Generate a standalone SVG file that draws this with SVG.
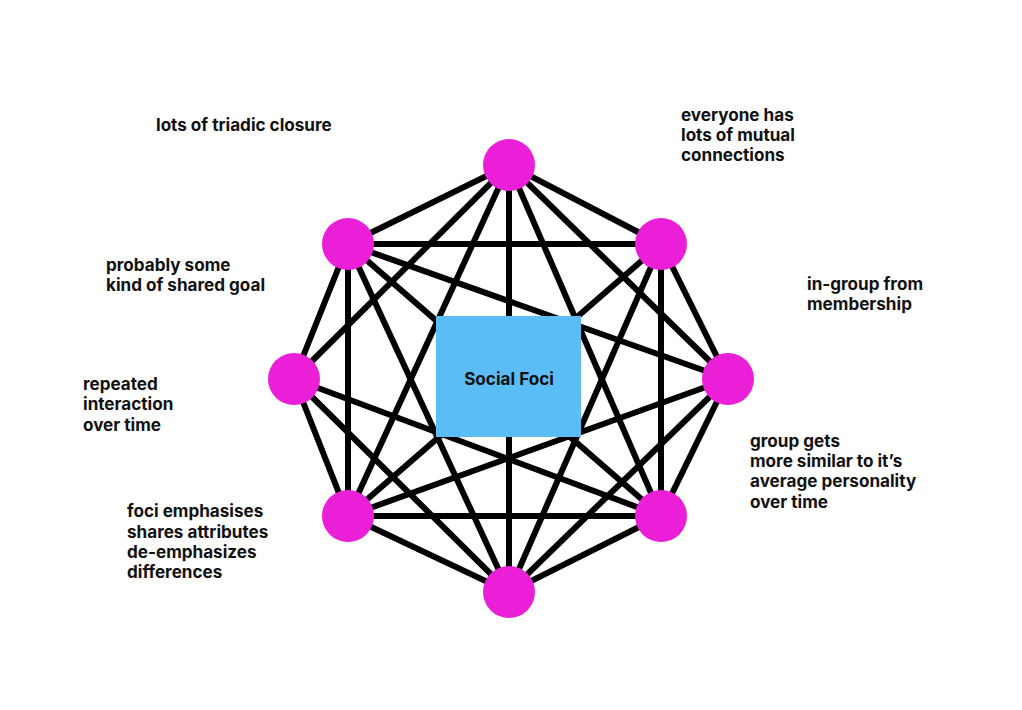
<svg xmlns="http://www.w3.org/2000/svg" width="1022" height="710" viewBox="0 0 1022 710">
<style>
.e{stroke:#000;stroke-width:6;fill:none}
.n{fill:#EA1FD7}
.t{font-family:Inter,"Liberation Sans",sans-serif;font-weight:700;font-size:17.1px;fill:#111}
</style>
<rect width="1022" height="710" fill="#fff"/>
<g id="connectors" class="e">
<line x1="509" y1="165" x2="661" y2="244"/>
<line x1="509" y1="165" x2="348" y2="244"/>
<line x1="509" y1="165" x2="294" y2="379"/>
<line x1="509" y1="165" x2="728" y2="379"/>
<line x1="509" y1="165" x2="509" y2="592"/>
<line x1="509" y1="165" x2="348" y2="516"/>
<line x1="509" y1="165" x2="661" y2="516"/>
<line x1="348" y1="244" x2="661" y2="244"/>
<line x1="348" y1="244" x2="294" y2="379"/>
<line x1="348" y1="244" x2="348" y2="516"/>
<line x1="348" y1="244" x2="728" y2="379"/>
<line x1="348" y1="244" x2="661" y2="516"/>
<line x1="348" y1="244" x2="509" y2="592"/>
<line x1="661" y1="244" x2="728" y2="379"/>
<line x1="661" y1="244" x2="661" y2="516"/>
<line x1="661" y1="244" x2="348" y2="516"/>
<line x1="661" y1="244" x2="509" y2="592"/>
<line x1="294" y1="379" x2="348" y2="516"/>
<line x1="294" y1="379" x2="661" y2="516"/>
<line x1="294" y1="379" x2="509" y2="592"/>
<line x1="728" y1="379" x2="661" y2="516"/>
<line x1="728" y1="379" x2="348" y2="516"/>
<line x1="728" y1="379" x2="509" y2="592"/>
<line x1="348" y1="516" x2="661" y2="516"/>
<line x1="348" y1="516" x2="509" y2="592"/>
<line x1="661" y1="516" x2="509" y2="592"/>
</g>
<g id="social-foci">
<rect x="436" y="316" width="145" height="121" fill="#5BBDF5"/>
<text class="t" x="509" y="385" text-anchor="middle">Social Foci</text>
</g>
<g id="node-top"><circle class="n" cx="509" cy="165" r="26"/></g>
<g id="node-top-left"><circle class="n" cx="348" cy="244" r="26"/></g>
<g id="node-top-right"><circle class="n" cx="661" cy="244" r="26"/></g>
<g id="node-left"><circle class="n" cx="294" cy="379" r="26"/></g>
<g id="node-right"><circle class="n" cx="728" cy="379" r="26"/></g>
<g id="node-bottom-left"><circle class="n" cx="348" cy="516" r="26"/></g>
<g id="node-bottom-right"><circle class="n" cx="661" cy="516" r="26"/></g>
<g id="node-bottom"><circle class="n" cx="509" cy="592" r="26"/></g>
<g id="labels" class="t">
<text x="156" y="130.5">lots of triadic closure</text>
<text x="681" y="120.5">everyone has<tspan x="681" y="140.7">lots of mutual</tspan><tspan x="681" y="160.9">connections</tspan></text>
<text x="106" y="270.5">probably some<tspan x="106" y="290.8">kind of shared goal</tspan></text>
<text x="807" y="290">in-group from<tspan x="807" y="310.3">membership</tspan></text>
<text x="83" y="390">repeated<tspan x="83" y="410.3">interaction</tspan><tspan x="83" y="430.6">over time</tspan></text>
<text x="750" y="446.7">group gets<tspan x="750" y="467">more similar to it’s</tspan><tspan x="750" y="487.2">average personality</tspan><tspan x="750" y="507.5">over time</tspan></text>
<text x="127" y="517.3">foci emphasises<tspan x="127" y="537.5">shares attributes</tspan><tspan x="127" y="557.7">de-emphasizes</tspan><tspan x="127" y="578">differences</tspan></text>
</g>
</svg>
